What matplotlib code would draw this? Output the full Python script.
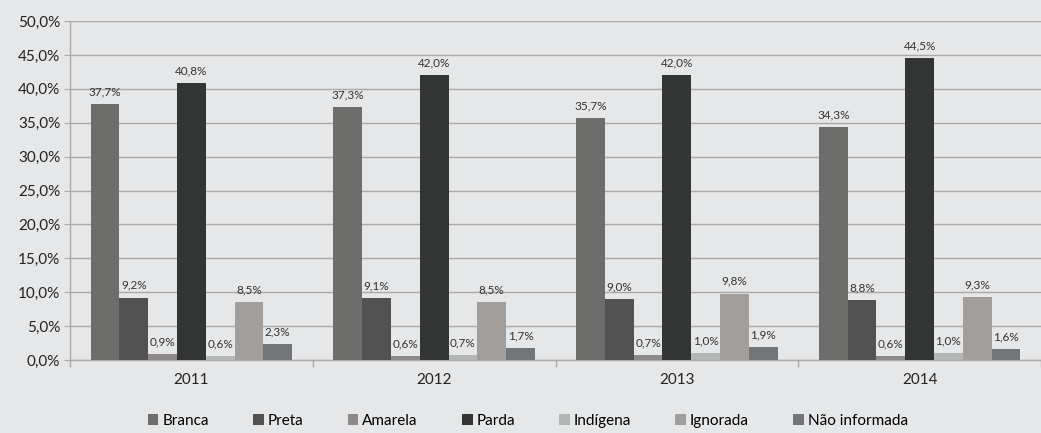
import numpy as np
import matplotlib
matplotlib.use("Agg")
import matplotlib.pyplot as plt
from matplotlib.ticker import FuncFormatter, FixedLocator

# dados
anos = ["2011", "2012", "2013", "2014"]
racas = ["Branca", "Preta", "Amarela", "Parda", "Indígena", "Ignorada", "Não informada"]
branca = [37.7, 37.3, 35.7, 34.3]
preta = [9.2, 9.1, 9.0, 8.8]
amarela = [0.9, 0.6, 0.7, 0.6]
parda = [40.8, 42.0, 42.0, 44.5]
indigena = [0.6, 0.7, 1.0, 1.0]
ignorada = [8.5, 8.5, 9.8, 9.3]
nao_informada = [2.3, 1.7, 1.9, 1.6]

series = [branca, preta, amarela, parda, indigena, ignorada, nao_informada]
cores = ["#6D6E6C", "#525252", "#8E8A8A", "#333534", "#B4B6B3", "#A29E9B", "#737579"]

BG = "#E6E7E8"
plt.rcParams["font.family"] = ["Lato", "DejaVu Sans"]

fig = plt.figure(figsize=(10.41, 4.33), dpi=100, facecolor=BG)
ax = fig.add_axes([70 / 1041, 1 - 360 / 433, 971 / 1041, 339 / 433])
ax.set_facecolor(BG)

x = np.arange(len(anos))
n = len(series)
w = 0.83 / n
for i, (vals, cor, nome) in enumerate(zip(series, cores, racas)):
    pos = x - 0.415 + w * (i + 0.5)
    ax.bar(pos, vals, width=w, color=cor, label=nome, zorder=3)
    for xp, v in zip(pos, vals):
        ax.annotate(f"{v:.1f}%".replace(".", ","), (xp, v), xytext=(0, 5),
                    textcoords="offset points", ha="center", va="bottom",
                    fontsize=8.5, color="#333333", zorder=4)

ax.set_xlim(-0.5, len(anos) - 0.5)
ax.set_ylim(0, 50)
ax.set_yticks(np.arange(0, 50.1, 5))
ax.yaxis.set_major_formatter(FuncFormatter(lambda v, p: f"{v:.1f}%".replace(".", ",")))
ax.grid(axis="y", color="#A9A9A9", linewidth=1.0, zorder=0)
ax.set_xticks(x)
ax.set_xticklabels(anos)
ax.xaxis.set_minor_locator(FixedLocator(np.arange(-0.5, len(anos), 1.0)))
ax.tick_params(axis="x", which="major", length=0, labelsize=11, pad=9, colors="#222222")
ax.tick_params(axis="x", which="minor", length=5, color="#A9A9A9", width=1)
ax.tick_params(axis="y", length=4, color="#A9A9A9", labelsize=11, colors="#222222", pad=3)

for s in ["top", "right"]:
    ax.spines[s].set_visible(False)
for s in ["left", "bottom"]:
    ax.spines[s].set_color("#A9A9A9")
    ax.spines[s].set_linewidth(1.0)

fig.legend(loc="lower center", bbox_to_anchor=(0.507, -0.02), ncol=7, frameon=False,
           fontsize=11, handlelength=0.7, handleheight=0.7, handletextpad=0.25,
           columnspacing=2.9)

fig.savefig("out.png", dpi=100, facecolor=BG)
